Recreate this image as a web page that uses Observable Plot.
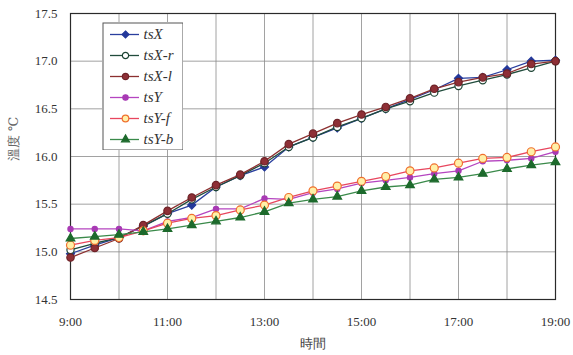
<!DOCTYPE html>
<html>
<head>
<meta charset="utf-8">
<script src="https://cdn.jsdelivr.net/npm/d3@7"></script>
<script src="https://cdn.jsdelivr.net/npm/@observablehq/plot@0.6"></script>
<style>
  html, body { margin: 0; padding: 0; background: #fff; }
  #wrap { position: relative; width: 573px; height: 355px; }
  #legend { position: absolute; left: 102px; top: 22px; width: 81px; height: 128px; }
  #wrap svg { max-width: none !important; display: block; }
  #wrap svg text { font-family: 'Liberation Serif', 'DejaVu Serif', serif; }
  #wrap svg text.cjk { font-family: 'Noto Sans CJK TC', sans-serif; }
</style>
</head>
<body>
<div id="wrap"><div id="chart"></div><div id="legend"></div></div>
<script>
// Half-hourly readings, 9:00 – 19:00
const times = ["9:00","9:30","10:00","10:30","11:00","11:30","12:00","12:30","13:00","13:30",
  "14:00","14:30","15:00","15:30","16:00","16:30","17:00","17:30","18:00","18:30","19:00"];
const xTickLabels = ["9:00","11:00","13:00","15:00","17:00","19:00"];
const yTicks = [14.5, 15.0, 15.5, 16.0, 16.5, 17.0, 17.5];

const seriesNames = ["tsX", "tsX-r", "tsX-l", "tsY", "tsY-f", "tsY-b"];
const tsX  = [14.98,15.07,15.15,15.27,15.40,15.49,15.68,15.80,15.89,16.10,16.20,16.30,16.40,16.50,16.60,16.70,16.82,16.83,16.91,17.00,17.01];
const tsXr = [15.02,15.09,15.15,15.27,15.40,15.55,15.68,15.80,15.93,16.10,16.20,16.31,16.40,16.50,16.58,16.67,16.74,16.80,16.86,16.93,17.00];
const tsXl = [14.94,15.04,15.14,15.28,15.43,15.57,15.70,15.81,15.95,16.13,16.24,16.35,16.44,16.52,16.61,16.71,16.78,16.83,16.87,16.97,17.00];
const tsY  = [15.24,15.24,15.24,15.22,15.32,15.36,15.45,15.45,15.56,15.55,15.62,15.66,15.72,15.75,15.78,15.82,15.85,15.95,15.96,15.98,16.05];
const tsYf = [15.07,15.12,15.15,15.22,15.30,15.35,15.38,15.44,15.49,15.57,15.64,15.69,15.74,15.79,15.85,15.88,15.93,15.98,15.99,16.05,16.10];
const tsYb = [15.14,15.16,15.18,15.21,15.24,15.28,15.32,15.36,15.42,15.51,15.55,15.58,15.64,15.68,15.70,15.76,15.78,15.82,15.87,15.91,15.94];

// Per-series drawing style
const styles = {
  "tsX":   {values: tsX,  line: "#2a3f9e", symbol: "diamond2", r: 3.6, fill: "#23389a", stroke: "#23389a"},
  "tsX-r": {values: tsXr, line: "#214c3c", symbol: "circle",   r: 3.6, fill: "#ffffff", stroke: "#1d4434"},
  "tsX-l": {values: tsXl, line: "#8c3030", symbol: "circle",   r: 3.7, fill: "#8e2f36", stroke: "#6e2328"},
  "tsY":   {values: tsY,  line: "#b545c0", symbol: "circle",   r: 2.6, fill: "#a83ab4", stroke: "#a83ab4"},
  "tsY-f": {values: tsYf, line: "#e8465e", symbol: "circle",   r: 4.0, fill: "#fff0a8", stroke: "#f0702e"},
  "tsY-b": {values: tsYb, line: "#3a8a4a", symbol: "triangle", r: 3.2, fill: "#1d6a2c", stroke: "#1d6a2c"}
};

const toHour = s => { const [h, m] = s.split(":").map(Number); return h + m / 60; };

const rows = seriesNames.flatMap(name =>
  styles[name].values.map((v, i) => ({series: name, t: toHour(times[i]), v})));

const marks = [
  Plot.gridX(d3.range(10, 19), {stroke: "#8a8a8a", strokeOpacity: 1, strokeWidth: 0.8}),
  Plot.gridY(yTicks.slice(1, -1), {stroke: "#8a8a8a", strokeOpacity: 1, strokeWidth: 0.8}),
  Plot.frame({stroke: "#2a2a2a", strokeWidth: 1.2})
];
for (const name of seriesNames) {
  const s = styles[name];
  const data = rows.filter(d => d.series === name);
  marks.push(Plot.line(data, {x: "t", y: "v", stroke: s.line, strokeWidth: 1.3}));
  marks.push(Plot.dot(data, {x: "t", y: "v", symbol: s.symbol, r: s.r, fill: s.fill, stroke: s.stroke, strokeWidth: 1.2}));
}
marks.push(
  Plot.text(["時間"], {frameAnchor: "bottom", dy: 48, fontSize: 13, fill: "#444", className: "cjk"}),
  Plot.text(["溫度 ℃"], {frameAnchor: "left", dx: -57, dy: 4, rotate: -90, fontSize: 13, fill: "#666", className: "cjk"})
);

const chart = Plot.plot({
  width: 573,
  height: 355,
  marginLeft: 70,
  marginRight: 18,
  marginTop: 13,
  marginBottom: 56,
  style: {fontSize: "13px", color: "#333", background: "#fff"},
  x: {domain: [9, 19], ticks: xTickLabels.map(toHour), tickFormat: h => xTickLabels.find(l => toHour(l) === h),
      tickSize: 0, tickPadding: 17, label: null},
  y: {domain: [14.5, 17.5], ticks: yTicks, tickFormat: d3.format(".1f"), tickSize: 0, tickPadding: 13, label: null},
  marks
});
document.getElementById("chart").appendChild(chart);

// Legend box drawn over the upper-left of the plot
const legend = Plot.plot({
  width: 81,
  height: 128,
  margin: 0,
  style: {background: "#fff"},
  x: {domain: [0, 81], axis: null},
  y: {domain: seriesNames, type: "point", padding: 0, axis: null, insetTop: 12, insetBottom: 11},
  marks: [
    Plot.frame({stroke: "#555", strokeWidth: 1, inset: 0.5}),
    Plot.ruleY(seriesNames, {y: d => d, x1: 8, x2: 37, stroke: d => styles[d].line, strokeWidth: 1.3}),
    Plot.dot(seriesNames, {x: 23, y: d => d, symbol: d => styles[d].symbol, r: d => styles[d].r,
      fill: d => styles[d].fill, stroke: d => styles[d].stroke, strokeWidth: 1.2}),
    Plot.text(seriesNames, {x: 41, y: d => d, text: d => d, textAnchor: "start",
      fontSize: 15, fontStyle: "italic", fill: "#333"})
  ]
});
document.getElementById("legend").appendChild(legend);
</script>
</body>
</html>
